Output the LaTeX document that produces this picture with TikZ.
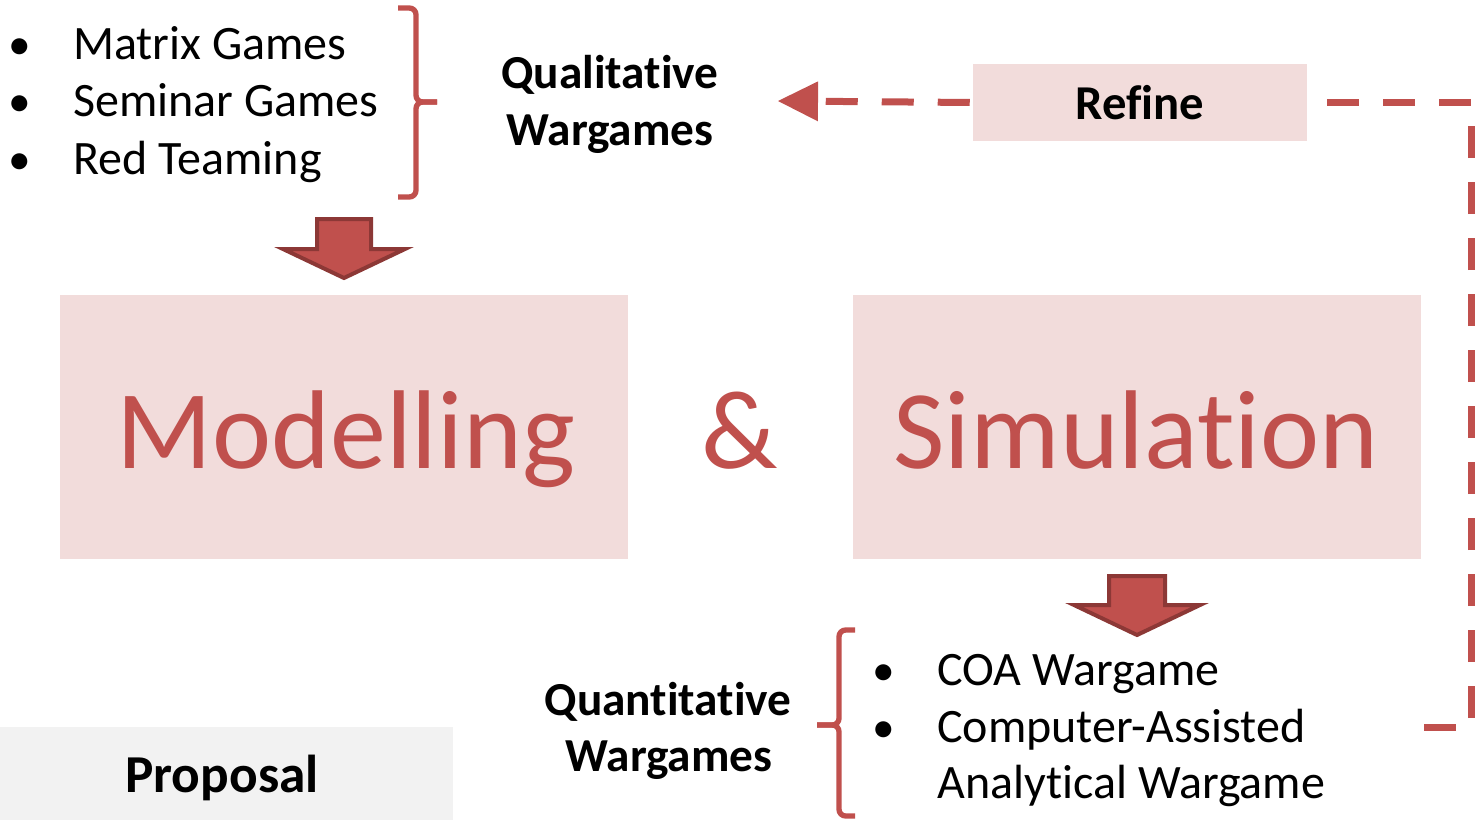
\documentclass[tikz,border=0pt]{standalone}
\usepackage{fontspec}
\setmainfont{Carlito}[Ligatures={NoCommon,NoRare,NoDiscretionary}]
\usetikzlibrary{arrows.meta}
\definecolor{accent}{HTML}{C0504D}
\definecolor{accentdark}{HTML}{8C3836}
\definecolor{pinkfill}{HTML}{F2DCDB}
\definecolor{greyfill}{HTML}{F2F2F2}
\tikzset{
  bigbox/.style={fill=pinkfill, draw=none, inner sep=0pt, minimum width=426pt, minimum height=198pt},
  bigtext/.style={text=accent, font=\fontsize{84}{100}\selectfont, inner sep=0pt, anchor=base},
  itemtext/.style={font=\fontsize{36}{42}\selectfont, inner sep=0pt, anchor=base west},
  bullettext/.style={font=\fontsize{34}{42}\selectfont, inner sep=0pt, anchor=base},
  labeltext/.style={font=\fontsize{35.5}{42}\selectfont\bfseries, inner sep=0pt, anchor=base},
  bracepath/.style={draw=accent, line width=4pt, rounded corners=5pt},
  blockarrow/.style={fill=accent, draw=accentdark, line width=3pt, line join=miter},
  conn/.style={draw=accent, line width=5.25pt, dash pattern=on 24pt off 18pt},
}
\begin{document}
\begin{tikzpicture}[x=0.75pt,y=-0.75pt]
\useasboundingbox (0,0) rectangle (1476,820);

% big boxes
\node[bigbox] (modbox) at (343.5,427) {};
\node[bigbox] (simbox) at (1137,427) {};
\node[bigtext] (modtext) at (346,468) {Modelling};
\node[bigtext] (amp) at (740,468) {\&};
\node[bigtext] (simtext) at (1136,468) {Simulation};

% top-left bullet list
\node[bullettext] (b1) at (20,60) {•};
\node[itemtext] (t1) at (73,60) {Matrix Games};
\node[bullettext] (b2) at (20,117) {•};
\node[itemtext] (t2) at (73,117) {Seminar Games};
\node[bullettext] (b3) at (20,174) {•};
\node[itemtext] (t3) at (73,174) {Red Teaming};

% top brace
\draw[bracepath] (398,8) -- (416,8) -- (416,102) -- (437,102);
\draw[bracepath] (398,197) -- (416,197) -- (416,102) -- (437,102);

% qualitative label
\node[labeltext] (ql1) at (610,89) {Qualitative};
\node[labeltext] (ql2) at (610,146) {Wargames};

% refine box
\node[fill=pinkfill, inner sep=0pt, minimum width=250.5pt, minimum height=57.75pt,
      font=\fontsize{36.5}{42}\selectfont\bfseries] (refine) at (1140,102.5) {Refine};

% top block arrow
\path[blockarrow] (317,219) -- (371,219) -- (371,249) -- (405,249) -- (344,278)
   -- (283,249) -- (317,249) -- cycle;

% bottom block arrow
\path[blockarrow] (1109,576) -- (1165,576) -- (1165,605) -- (1200,605) -- (1137,635)
   -- (1074,605) -- (1109,605) -- cycle;

% quantitative label
\node[labeltext] (qn1) at (668,715) {Quantitative};
\node[labeltext] (qn2) at (669,771) {Wargames};

% bottom brace
\draw[bracepath] (855,630) -- (839,630) -- (839,725) -- (817,725);
\draw[bracepath] (855,816) -- (839,816) -- (839,725) -- (817,725);

% bottom bullet list
\node[bullettext] (b4) at (884,685) {•};
\node[itemtext] (t4) at (937,685) {COA Wargame};
\node[bullettext] (b5) at (884,742) {•};
\node[itemtext] (t5) at (937,742) {Computer-Assisted};
\node[itemtext] (t6) at (937,798) {Analytical Wargame};

% proposal box
\node[fill=greyfill, inner sep=0pt, minimum width=339.75pt, minimum height=69.75pt] (propbox) at (226.5,773.5) {};
\node[labeltext, font=\fontsize{40}{48}\selectfont\bfseries] (proposal) at (222,792) {Proposal};

% dashed feedback connector
\coordinate (qstart) at (1424,727);
\coordinate (qin) at (778,101);
\draw[conn] (qstart) -- (1471,727) |- (refine.east);
\draw[conn, dash phase=39.75pt, -{Triangle[length=30pt,width=30pt,line width=0pt]}] (refine.west) -- (qin);
\end{tikzpicture}
\end{document}
